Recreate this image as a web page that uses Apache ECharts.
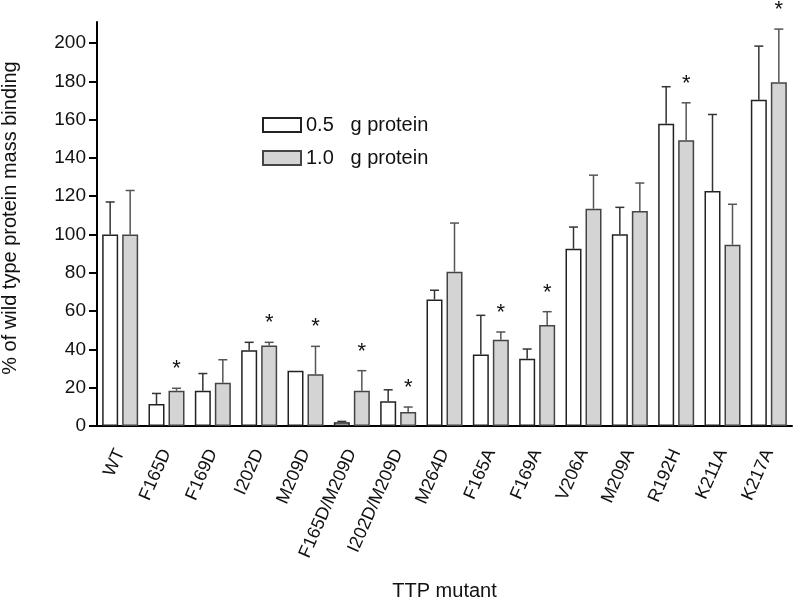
<!DOCTYPE html>
<html>
<head>
<meta charset="utf-8">
<script src="https://cdn.jsdelivr.net/npm/echarts@6/dist/echarts.min.js"></script>
<style>
html,body{margin:0;padding:0;background:#fff;}
#main{width:800px;height:602px;}
</style>
</head>
<body>
<div id="main"></div>
<script>
var categories = ['WT','F165D','F169D','I202D','M209D','F165D/M209D','I202D/M209D','M264D','F165A','F169A','V206A','M209A','R192H','K211A','K217A'];
var white05 = [100, 11.5, 18.4, 39.5, 28.9, 1.9, 12.9, 66.1, 37.4, 35.1, 92.6, 100.2, 157.9, 122.7, 170.4];
var whiteErr = [17, 5.5, 9, 4.2, 0, 0.5, 6, 4.8, 20.4, 5.1, 11.3, 14, 19.3, 40, 28];
var gray10 = [100, 18.4, 22.6, 42.1, 27, 18.4, 7.3, 80.6, 45.1, 52.7, 113.5, 112.3, 149.2, 94.7, 179.5];
var grayErr = [23, 1.3, 12, 1.6, 14.6, 10.5, 2.6, 25.4, 4, 7, 17.5, 14.6, 19.6, 21.1, 27.8];
var graySig = [0, 1, 0, 1, 1, 1, 1, 0, 1, 1, 0, 0, 1, 0, 1];
var yTicks = [0, 20, 40, 60, 80, 100, 120, 140, 160, 180, 200];
var legendNames = ['0.5   g protein', '1.0   g protein'];

var FONT = '"Liberation Sans", Arial, sans-serif';
var BAR_W = 16, BAR_GAP = 4;

function errSeries(means, errs, sig, side, color) {
  var data = means.map(function (m, i) { return [i, m, m + errs[i], sig ? sig[i] : 0]; });
  return {
    type: 'custom',
    clip: false,
    silent: true,
    z: 5,
    data: data,
    encode: { x: 0, y: [1, 2] },
    renderItem: function (params, api) {
      var off = side * (BAR_W + BAR_GAP) / 2;
      var base = api.coord([api.value(0), api.value(1)]);
      var top = api.coord([api.value(0), api.value(2)]);
      var x = base[0] + off;
      var children = [];
      if (api.value(2) > api.value(1)) {
        children.push({ type: 'line', shape: { x1: x, y1: base[1], x2: x, y2: top[1] }, style: { stroke: color, lineWidth: 1.5 } });
        children.push({ type: 'line', shape: { x1: x - 4.5, y1: top[1], x2: x + 4.5, y2: top[1] }, style: { stroke: color, lineWidth: 1.5 } });
      }
      if (api.value(3)) {
        children.push({ type: 'text', style: { x: x, y: top[1] - 19, text: '*', fill: '#111', font: '22px ' + FONT, textAlign: 'center', textVerticalAlign: 'middle' } });
      }
      return { type: 'group', children: children };
    }
  };
}

var chart = echarts.init(document.getElementById('main'), null, { renderer: 'canvas' });
chart.setOption({
  animation: false,
  backgroundColor: '#fff',
  textStyle: { fontFamily: FONT, color: '#000' },
  grid: { left: 97, right: 8, top: 22, bottom: 176, containLabel: false, outerBoundsMode: 'none' },
  legend: {
    data: legendNames,
    orient: 'vertical',
    left: 257,
    top: 110,
    itemWidth: 38,
    itemHeight: 14,
    itemGap: 13,
    icon: 'rect',
    textStyle: { fontFamily: FONT, fontSize: 20, color: '#111' }
  },
  xAxis: {
    type: 'category',
    data: categories,
    name: 'TTP mutant',
    nameLocation: 'middle',
    nameGap: 155,
    nameTextStyle: { fontFamily: FONT, fontSize: 20, color: '#111' },
    axisLine: { lineStyle: { color: '#000', width: 2 } },
    axisTick: { alignWithLabel: true, length: 8, lineStyle: { color: '#000', width: 2 } },
    axisLabel: { rotate: 66, margin: 24, fontFamily: FONT, fontSize: 18, color: '#111', interval: 0 }
  },
  yAxis: {
    type: 'value',
    min: 0,
    max: 211,
    name: '% of wild type protein mass binding',
    nameLocation: 'middle',
    nameGap: 77,
    nameTextStyle: { fontFamily: FONT, fontSize: 20, color: '#111', padding: [0, 0, 0, 12] },
    splitLine: { show: false },
    axisLine: { show: true, lineStyle: { color: '#000', width: 2 } },
    axisTick: { show: true, length: 8, customValues: yTicks, lineStyle: { color: '#000', width: 2 } },
    axisLabel: { customValues: yTicks, margin: 11, fontFamily: FONT, fontSize: 19, color: '#111' }
  },
  series: [
    {
      name: legendNames[0], type: 'bar', data: white05, barWidth: BAR_W, barGap: (BAR_GAP / BAR_W * 100) + '%',
      itemStyle: { color: '#ffffff', borderColor: '#222', borderWidth: 1.5 }
    },
    {
      name: legendNames[1], type: 'bar', data: gray10, barWidth: BAR_W,
      itemStyle: { color: '#d4d4d4', borderColor: '#444', borderWidth: 1.5 }
    },
    errSeries(white05, whiteErr, null, -1, '#333'),
    errSeries(gray10, grayErr, graySig, 1, '#555')
  ]
});
</script>
</body>
</html>
